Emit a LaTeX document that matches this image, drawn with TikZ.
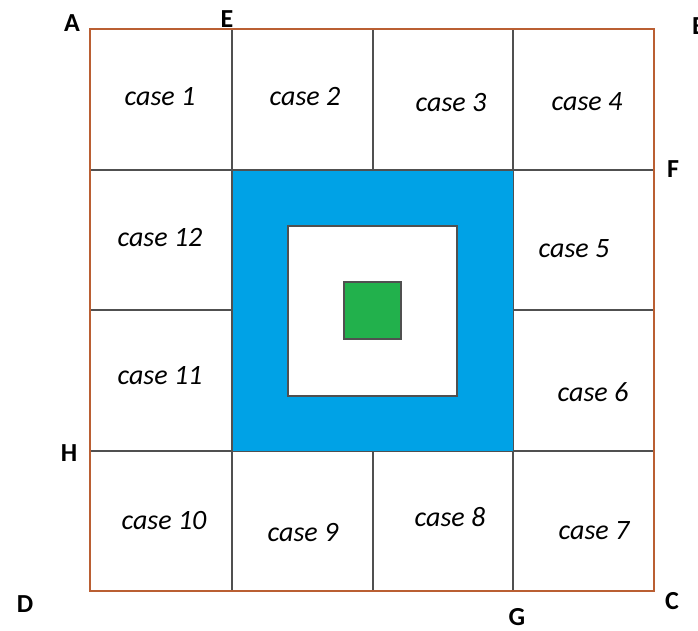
\documentclass[tikz,border=0pt]{standalone}
\usepackage{fontspec}
\setmainfont{Carlito}
\definecolor{outerbrown}{HTML}{BA5F33}
\definecolor{gridgray}{HTML}{505050}
\definecolor{blueband}{HTML}{00A2E6}
\definecolor{greenbox}{HTML}{22B14C}
\begin{document}
\begin{tikzpicture}[x=1pt,y=-1pt,
  casetext/.style={font=\fontsize{28}{30}\selectfont\itshape, inner sep=0pt},
  ptlabel/.style={font=\fontsize{26}{28}\selectfont\bfseries, inner sep=0pt},
  gridline/.style={draw=gridgray, line width=1.3pt},
  outerline/.style={draw=outerbrown, line width=1.7pt}]
\useasboundingbox (0,0) rectangle (698,630);
\fill[white] (0,0) rectangle (698,630);
% grid coordinates
\coordinate (A) at (90,29);
\coordinate (Bc) at (654,29);
\coordinate (Cc) at (654,591);
\coordinate (Dc) at (90,591);
% grid lines
\draw[gridline] (232,29) -- (232,591);
\draw[gridline] (513,29) -- (513,591);
\draw[gridline] (373,29) -- (373,170);
\draw[gridline] (373,451) -- (373,591);
\draw[gridline] (90,170) -- (654,170);
\draw[gridline] (90,451) -- (654,451);
\draw[gridline] (90,310) -- (232,310);
\draw[gridline] (513,310) -- (654,310);
% blue band
\fill[blueband, draw=gridgray, line width=0.6pt] (232,170) rectangle (513,451);
\filldraw[fill=white, draw=gridgray, line width=1.3pt] (288,226) rectangle (457,396);
\filldraw[fill=greenbox, draw=gridgray, line width=1.3pt] (344,282) rectangle (401,339);
% outer frame
\draw[outerline] (A) rectangle (Cc);
% case labels
\node[casetext] (c1) at (160,97) {case 1};
\node[casetext] (c2) at (305,97) {case 2};
\node[casetext] (c3) at (451,103) {case 3};
\node[casetext] (c4) at (587,102) {case 4};
\node[casetext] (c12) at (160,238) {case 12};
\node[casetext] (c5) at (574,249) {case 5};
\node[casetext] (c11) at (160,376) {case 11};
\node[casetext] (c6) at (593,392) {case 6};
\node[casetext] (c10) at (164,521) {case 10};
\node[casetext] (c9) at (303,533) {case 9};
\node[casetext] (c8) at (450,517) {case 8};
\node[casetext] (c7) at (594,531) {case 7};
% point labels
\node[ptlabel] (lA) at (72,23) {A};
\node[ptlabel] (lE) at (227,19) {E};
\node[ptlabel, anchor=west] (lB) at (692,26) {B};
\node[ptlabel] (lF) at (673,169) {F};
\node[ptlabel] (lH) at (69,453) {H};
\node[ptlabel] (lD) at (25,604) {D};
\node[ptlabel] (lG) at (517,617) {G};
\node[ptlabel] (lC) at (672,601) {C};
\end{tikzpicture}
\end{document}
